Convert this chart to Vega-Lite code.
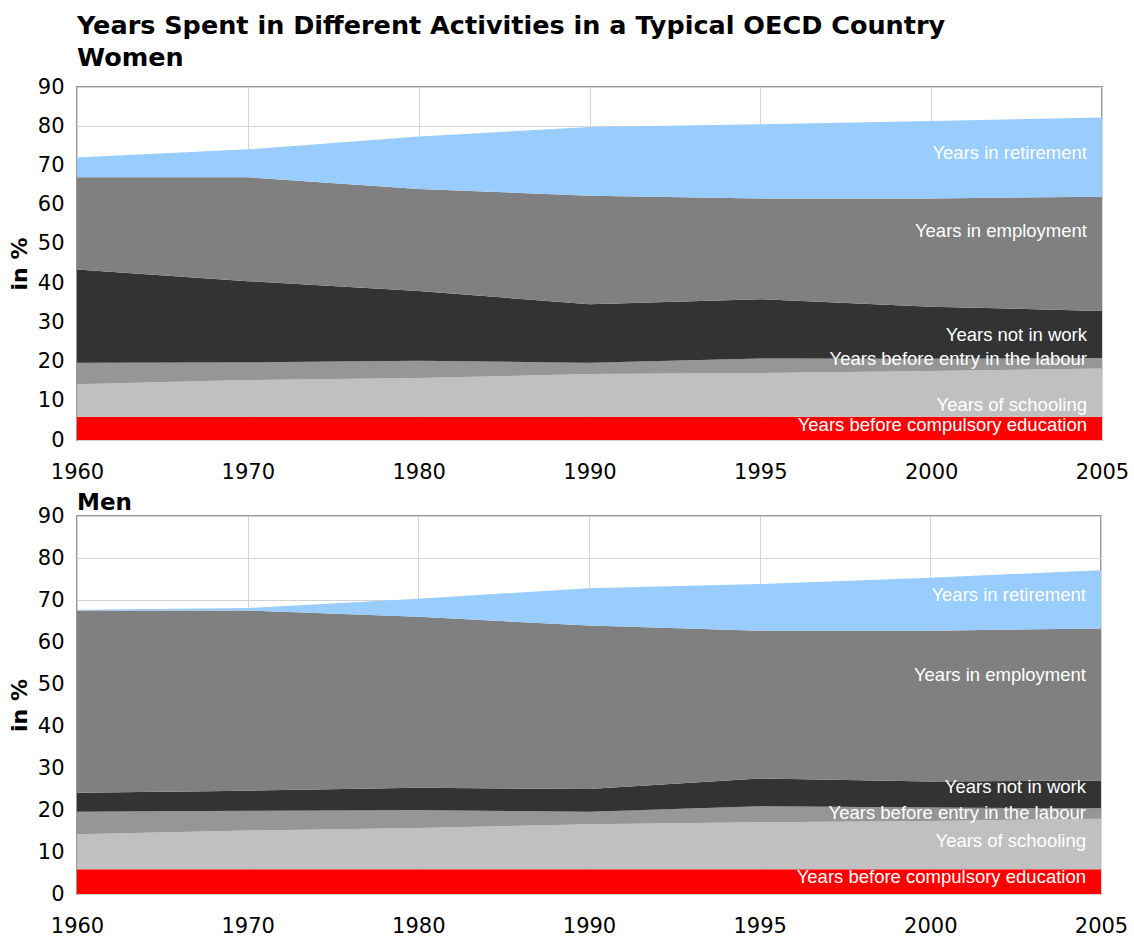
{
  "$schema": "https://vega.github.io/schema/vega-lite/v6.json",
  "padding": {"left": 7, "top": 12, "right": 0, "bottom": 0},
  "background": "#FFFFFF",
  "spacing": 8,
  "config": {
    "view": {"stroke": "#999999", "strokeWidth": 2},
    "axis": {
      "labelFont": "DejaVu Sans",
      "labelFontSize": 21,
      "labelColor": "#000000",
      "labelOverlap": false,
      "gridColor": "#D4D4D4",
      "gridWidth": 1,
      "domain": false,
      "ticks": false,
      "titleFont": "DejaVu Sans",
      "titleFontWeight": "bold",
      "titleFontSize": 22,
      "titleColor": "#000000"
    },
    "title": {"font": "DejaVu Sans", "fontWeight": "bold", "color": "#000000", "anchor": "start", "frame": "group"}
  },
  "datasets": {
    "activity": [
      {"sex": "Women", "year": "1960", "activity": "compulsory", "k": 1, "years": 5.9},
      {"sex": "Women", "year": "1960", "activity": "schooling", "k": 2, "years": 8.3},
      {"sex": "Women", "year": "1960", "activity": "entry", "k": 3, "years": 5.5},
      {"sex": "Women", "year": "1960", "activity": "notwork", "k": 4, "years": 23.8},
      {"sex": "Women", "year": "1960", "activity": "employment", "k": 5, "years": 23.5},
      {"sex": "Women", "year": "1960", "activity": "retirement", "k": 6, "years": 5.0},
      {"sex": "Women", "year": "1970", "activity": "compulsory", "k": 1, "years": 5.9},
      {"sex": "Women", "year": "1970", "activity": "schooling", "k": 2, "years": 9.4},
      {"sex": "Women", "year": "1970", "activity": "entry", "k": 3, "years": 4.5},
      {"sex": "Women", "year": "1970", "activity": "notwork", "k": 4, "years": 20.7},
      {"sex": "Women", "year": "1970", "activity": "employment", "k": 5, "years": 26.5},
      {"sex": "Women", "year": "1970", "activity": "retirement", "k": 6, "years": 7.1},
      {"sex": "Women", "year": "1980", "activity": "compulsory", "k": 1, "years": 5.9},
      {"sex": "Women", "year": "1980", "activity": "schooling", "k": 2, "years": 9.9},
      {"sex": "Women", "year": "1980", "activity": "entry", "k": 3, "years": 4.4},
      {"sex": "Women", "year": "1980", "activity": "notwork", "k": 4, "years": 17.8},
      {"sex": "Women", "year": "1980", "activity": "employment", "k": 5, "years": 26.0},
      {"sex": "Women", "year": "1980", "activity": "retirement", "k": 6, "years": 13.4},
      {"sex": "Women", "year": "1990", "activity": "compulsory", "k": 1, "years": 5.9},
      {"sex": "Women", "year": "1990", "activity": "schooling", "k": 2, "years": 10.9},
      {"sex": "Women", "year": "1990", "activity": "entry", "k": 3, "years": 2.9},
      {"sex": "Women", "year": "1990", "activity": "notwork", "k": 4, "years": 14.9},
      {"sex": "Women", "year": "1990", "activity": "employment", "k": 5, "years": 27.7},
      {"sex": "Women", "year": "1990", "activity": "retirement", "k": 6, "years": 17.5},
      {"sex": "Women", "year": "1995", "activity": "compulsory", "k": 1, "years": 5.9},
      {"sex": "Women", "year": "1995", "activity": "schooling", "k": 2, "years": 11.2},
      {"sex": "Women", "year": "1995", "activity": "entry", "k": 3, "years": 3.7},
      {"sex": "Women", "year": "1995", "activity": "notwork", "k": 4, "years": 15.1},
      {"sex": "Women", "year": "1995", "activity": "employment", "k": 5, "years": 25.7},
      {"sex": "Women", "year": "1995", "activity": "retirement", "k": 6, "years": 18.9},
      {"sex": "Women", "year": "2000", "activity": "compulsory", "k": 1, "years": 5.9},
      {"sex": "Women", "year": "2000", "activity": "schooling", "k": 2, "years": 11.7},
      {"sex": "Women", "year": "2000", "activity": "entry", "k": 3, "years": 3.1},
      {"sex": "Women", "year": "2000", "activity": "notwork", "k": 4, "years": 13.3},
      {"sex": "Women", "year": "2000", "activity": "employment", "k": 5, "years": 27.6},
      {"sex": "Women", "year": "2000", "activity": "retirement", "k": 6, "years": 19.7},
      {"sex": "Women", "year": "2005", "activity": "compulsory", "k": 1, "years": 5.9},
      {"sex": "Women", "year": "2005", "activity": "schooling", "k": 2, "years": 12.3},
      {"sex": "Women", "year": "2005", "activity": "entry", "k": 3, "years": 2.7},
      {"sex": "Women", "year": "2005", "activity": "notwork", "k": 4, "years": 12.0},
      {"sex": "Women", "year": "2005", "activity": "employment", "k": 5, "years": 29.1},
      {"sex": "Women", "year": "2005", "activity": "retirement", "k": 6, "years": 20.2},
      {"sex": "Men", "year": "1960", "activity": "compulsory", "k": 1, "years": 5.9},
      {"sex": "Men", "year": "1960", "activity": "schooling", "k": 2, "years": 8.3},
      {"sex": "Men", "year": "1960", "activity": "entry", "k": 3, "years": 5.4},
      {"sex": "Men", "year": "1960", "activity": "notwork", "k": 4, "years": 4.5},
      {"sex": "Men", "year": "1960", "activity": "employment", "k": 5, "years": 43.4},
      {"sex": "Men", "year": "1960", "activity": "retirement", "k": 6, "years": 0.2},
      {"sex": "Men", "year": "1970", "activity": "compulsory", "k": 1, "years": 5.9},
      {"sex": "Men", "year": "1970", "activity": "schooling", "k": 2, "years": 9.2},
      {"sex": "Men", "year": "1970", "activity": "entry", "k": 3, "years": 4.7},
      {"sex": "Men", "year": "1970", "activity": "notwork", "k": 4, "years": 4.8},
      {"sex": "Men", "year": "1970", "activity": "employment", "k": 5, "years": 42.9},
      {"sex": "Men", "year": "1970", "activity": "retirement", "k": 6, "years": 0.6},
      {"sex": "Men", "year": "1980", "activity": "compulsory", "k": 1, "years": 5.9},
      {"sex": "Men", "year": "1980", "activity": "schooling", "k": 2, "years": 9.8},
      {"sex": "Men", "year": "1980", "activity": "entry", "k": 3, "years": 4.3},
      {"sex": "Men", "year": "1980", "activity": "notwork", "k": 4, "years": 5.3},
      {"sex": "Men", "year": "1980", "activity": "employment", "k": 5, "years": 40.7},
      {"sex": "Men", "year": "1980", "activity": "retirement", "k": 6, "years": 4.3},
      {"sex": "Men", "year": "1990", "activity": "compulsory", "k": 1, "years": 5.9},
      {"sex": "Men", "year": "1990", "activity": "schooling", "k": 2, "years": 10.7},
      {"sex": "Men", "year": "1990", "activity": "entry", "k": 3, "years": 3.0},
      {"sex": "Men", "year": "1990", "activity": "notwork", "k": 4, "years": 5.4},
      {"sex": "Men", "year": "1990", "activity": "employment", "k": 5, "years": 38.9},
      {"sex": "Men", "year": "1990", "activity": "retirement", "k": 6, "years": 8.9},
      {"sex": "Men", "year": "1995", "activity": "compulsory", "k": 1, "years": 5.9},
      {"sex": "Men", "year": "1995", "activity": "schooling", "k": 2, "years": 11.2},
      {"sex": "Men", "year": "1995", "activity": "entry", "k": 3, "years": 3.8},
      {"sex": "Men", "year": "1995", "activity": "notwork", "k": 4, "years": 6.6},
      {"sex": "Men", "year": "1995", "activity": "employment", "k": 5, "years": 35.2},
      {"sex": "Men", "year": "1995", "activity": "retirement", "k": 6, "years": 11.1},
      {"sex": "Men", "year": "2000", "activity": "compulsory", "k": 1, "years": 5.9},
      {"sex": "Men", "year": "2000", "activity": "schooling", "k": 2, "years": 11.5},
      {"sex": "Men", "year": "2000", "activity": "entry", "k": 3, "years": 3.2},
      {"sex": "Men", "year": "2000", "activity": "notwork", "k": 4, "years": 6.2},
      {"sex": "Men", "year": "2000", "activity": "employment", "k": 5, "years": 35.9},
      {"sex": "Men", "year": "2000", "activity": "retirement", "k": 6, "years": 12.6},
      {"sex": "Men", "year": "2005", "activity": "compulsory", "k": 1, "years": 5.9},
      {"sex": "Men", "year": "2005", "activity": "schooling", "k": 2, "years": 12.0},
      {"sex": "Men", "year": "2005", "activity": "entry", "k": 3, "years": 2.5},
      {"sex": "Men", "year": "2005", "activity": "notwork", "k": 4, "years": 6.6},
      {"sex": "Men", "year": "2005", "activity": "employment", "k": 5, "years": 36.2},
      {"sex": "Men", "year": "2005", "activity": "retirement", "k": 6, "years": 13.9}
    ],
    "labels": [
      {"sex": "Women", "year": "2005", "label": "Years in retirement", "at": 73.1},
      {"sex": "Women", "year": "2005", "label": "Years in employment", "at": 53.2},
      {"sex": "Women", "year": "2005", "label": "Years not in work", "at": 26.7},
      {"sex": "Women", "year": "2005", "label": "Years before entry in the labour", "at": 20.7},
      {"sex": "Women", "year": "2005", "label": "Years of schooling", "at": 9.0},
      {"sex": "Women", "year": "2005", "label": "Years before compulsory education", "at": 3.8},
      {"sex": "Men", "year": "2005", "label": "Years in retirement", "at": 71.2},
      {"sex": "Men", "year": "2005", "label": "Years in employment", "at": 52.2},
      {"sex": "Men", "year": "2005", "label": "Years not in work", "at": 25.5},
      {"sex": "Men", "year": "2005", "label": "Years before entry in the labour", "at": 19.3},
      {"sex": "Men", "year": "2005", "label": "Years of schooling", "at": 12.6},
      {"sex": "Men", "year": "2005", "label": "Years before compulsory education", "at": 4.0}
    ]
  },
  "vconcat": [
    {
      "width": 1025,
      "height": 353,
      "title": {"text": ["Years Spent in Different Activities in a Typical OECD Country", "Women"], "fontSize": 25.5, "lineHeight": 32, "offset": 5},
      "layer": [
        {
          "data": {"name": "activity"},
          "transform": [{"filter": "datum.sex === 'Women'"}],
          "mark": {"type": "area", "opacity": 1},
          "encoding": {
            "x": {"field": "year", "type": "ordinal", "scale": {"type": "point", "padding": 0}, "axis": {"title": null, "labelAngle": 0, "grid": true, "labelPadding": 21}},
            "y": {"field": "years", "type": "quantitative", "stack": "zero", "scale": {"domain": [0, 90], "nice": false}, "axis": {"title": "in %", "values": [0, 10, 20, 30, 40, 50, 60, 70, 80, 90], "grid": true, "labelOverlap": false, "labelPadding": 13, "titlePadding": 6}},
            "color": {"field": "activity", "type": "nominal", "scale": {"domain": ["compulsory", "schooling", "entry", "notwork", "employment", "retirement"], "range": ["#FF0000", "#C0C0C0", "#969696", "#333333", "#808080", "#99CCFF"]}, "legend": null},
            "order": {"field": "k", "type": "quantitative"}
          }
        },
        {
          "data": {"name": "labels"},
          "transform": [{"filter": "datum.sex === 'Women'"}],
          "mark": {"type": "text", "align": "right", "baseline": "middle", "dx": -15, "font": "Liberation Sans", "fontSize": 18.5, "color": "#FFFFFF"},
          "encoding": {
            "x": {"field": "year", "type": "ordinal", "axis": {"title": null, "labelAngle": 0, "grid": true, "labelPadding": 21}},
            "y": {"field": "at", "type": "quantitative", "axis": {"title": "in %", "values": [0, 10, 20, 30, 40, 50, 60, 70, 80, 90], "grid": true, "labelOverlap": false, "labelPadding": 13, "titlePadding": 6}},
            "text": {"field": "label"}
          }
        }
      ]
    },
    {
      "width": 1024,
      "height": 378,
      "title": {"text": "Men", "fontSize": 23, "offset": -10},
      "layer": [
        {
          "data": {"name": "activity"},
          "transform": [{"filter": "datum.sex === 'Men'"}],
          "mark": {"type": "area", "opacity": 1},
          "encoding": {
            "x": {"field": "year", "type": "ordinal", "scale": {"type": "point", "padding": 0}, "axis": {"title": null, "labelAngle": 0, "grid": true, "labelPadding": 21}},
            "y": {"field": "years", "type": "quantitative", "stack": "zero", "scale": {"domain": [0, 90], "nice": false}, "axis": {"title": "in %", "values": [0, 10, 20, 30, 40, 50, 60, 70, 80, 90], "grid": true, "labelOverlap": false, "labelPadding": 13, "titlePadding": 6}},
            "color": {"field": "activity", "type": "nominal", "scale": {"domain": ["compulsory", "schooling", "entry", "notwork", "employment", "retirement"], "range": ["#FF0000", "#C0C0C0", "#969696", "#333333", "#808080", "#99CCFF"]}, "legend": null},
            "order": {"field": "k", "type": "quantitative"}
          }
        },
        {
          "data": {"name": "labels"},
          "transform": [{"filter": "datum.sex === 'Men'"}],
          "mark": {"type": "text", "align": "right", "baseline": "middle", "dx": -15, "font": "Liberation Sans", "fontSize": 18.5, "color": "#FFFFFF"},
          "encoding": {
            "x": {"field": "year", "type": "ordinal", "axis": {"title": null, "labelAngle": 0, "grid": true, "labelPadding": 21}},
            "y": {"field": "at", "type": "quantitative", "axis": {"title": "in %", "values": [0, 10, 20, 30, 40, 50, 60, 70, 80, 90], "grid": true, "labelOverlap": false, "labelPadding": 13, "titlePadding": 6}},
            "text": {"field": "label"}
          }
        }
      ]
    }
  ]
}
